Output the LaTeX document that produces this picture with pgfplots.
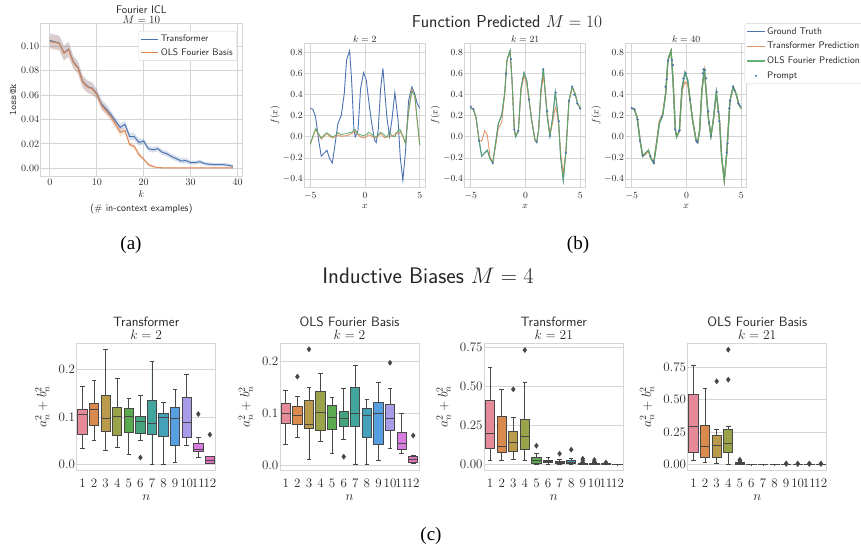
\RequirePackage{fix-cm}
\documentclass[border=0pt]{standalone}
\usepackage{fontspec}
\newfontfamily\timesfont{Liberation Serif}
\usepackage{pgfplots}
\usepackage{pgfplotstable}
\pgfplotsset{compat=1.18}
\usepgfplotslibrary{statistics}

\definecolor{sbblue}{HTML}{4C72B0}
\definecolor{sborange}{HTML}{DD8452}
\definecolor{sbgreen}{HTML}{55A868}
\definecolor{gridc}{HTML}{D5D5D5}
\definecolor{txt}{HTML}{262626}
\definecolor{boxedge}{HTML}{474747}
\definecolor{bx1}{HTML}{E68A9A}
\definecolor{bx2}{HTML}{DB8A4E}
\definecolor{bx3}{HTML}{BA9A4B}
\definecolor{bx4}{HTML}{9AA34A}
\definecolor{bx5}{HTML}{5CAA50}
\definecolor{bx6}{HTML}{45A47E}
\definecolor{bx7}{HTML}{43A69E}
\definecolor{bx8}{HTML}{45A0BA}
\definecolor{bx9}{HTML}{56A0E2}
\definecolor{bx10}{HTML}{A99BE8}
\definecolor{bx11}{HTML}{D87BDF}
\definecolor{bx12}{HTML}{E172BD}

\pgfplotsset{
  sbstyle/.style={
    scale only axis,
    axis line style={gridc, line width=1pt},
    grid=major,
    major grid style={gridc, line width=0.8pt},
    major tick length=0pt,
    tick style={draw=none},
    every tick label/.append style={text=txt},
    label style={text=txt},
    title style={text=txt},
  },
  fnstyle/.style={
    sbstyle,
    width=121pt, height=144pt,
    xmin=-5.55, xmax=5.5, ymin=-0.479, ymax=0.889,
    xtick={-5,0,5}, ytick={-0.4,-0.2,0,0.2,0.4,0.6,0.8},
    yticklabel style={/pgf/number format/.cd, fixed, fixed zerofill, precision=1},
    tick label style={font=\fontsize{9.4}{10}\selectfont, inner sep=1.5pt},
    xticklabel style={yshift=-3pt},
    xlabel={$x$}, ylabel={$f(x)$},
    label style={font=\fontsize{9.5}{10}\selectfont},
    xlabel style={yshift=0pt},
    ylabel style={yshift=-2pt},
    title style={font=\fontsize{9.5}{10}\selectfont, at={(0.5,1)}, anchor=south, yshift=-7pt, inner sep=1.5pt},
  },
  bxstyle/.style={
    sbstyle,
    xmajorgrids=false, ymajorgrids=true,
    width=139pt, height=126.7pt,
    xmin=0.5, xmax=12.5, xtick={1,2,3,4,5,6,7,8,9,10,11,12},
    tick label style={font=\fontsize{13}{13}\selectfont, inner sep=1.5pt},
    xticklabel style={yshift=-7pt},
    xlabel={$n$}, ylabel={$a_n^2+b_n^2$},
    label style={font=\fontsize{13.5}{14}\selectfont},
    xlabel style={yshift=-3pt},
    ylabel style={yshift=4pt},
    title style={font=\sffamily\fontsize{13.5}{15}\selectfont, align=center, at={(0.5,1)}, anchor=south, yshift=-4pt, inner sep=1.5pt},
    boxplot/draw direction=y,
    boxplot/box extend=0.8,
    boxplot/whisker extend=0.4,
  },
}

\newcommand{\bx}[8]{\addplot[boxplot prepared={draw position=#1, lower whisker=#2, lower quartile=#3, median=#4, upper quartile=#5, upper whisker=#6}, draw=boxedge, fill=#7, line width=0.9pt, mark=diamond*, mark size=2.2pt, mark options={fill=boxedge, draw=boxedge, solid}] coordinates {#8};}

\pgfplotstableread{
k t o
0 0.1045 0.1035
1 0.1035 0.1030
2 0.1025 0.1022
3 0.0945 0.0940
4 0.0975 0.0970
5 0.0870 0.0865
6 0.0825 0.0820
7 0.0710 0.0705
8 0.0670 0.0665
9 0.0655 0.0650
10 0.0610 0.0605
11 0.0525 0.0515
12 0.0485 0.0470
13 0.0440 0.0420
14 0.0385 0.0360
15 0.0335 0.0295
16 0.0360 0.0310
17 0.0260 0.0195
18 0.0258 0.0178
19 0.0212 0.0112
20 0.0222 0.0075
21 0.0160 0.0030
22 0.0152 0.0015
23 0.0160 0.0006
24 0.0130 0.0004
25 0.0118 0.0003
26 0.0095 0.0003
27 0.0078 0.0003
28 0.0060 0.0003
29 0.0063 0.0003
30 0.0047 0.0003
31 0.0047 0.0003
32 0.0054 0.0003
33 0.0038 0.0003
34 0.0033 0.0003
35 0.0030 0.0003
36 0.0030 0.0003
37 0.0030 0.0003
38 0.0025 0.0003
39 0.0016 0.0003
}\lossdata

\pgfplotstableread{
x truth tr2 ols2 tr21 tr40
-5.00 0.270 -0.070 -0.070 0.280 0.270
-4.76 0.263 0.000 0.010 0.265 0.263
-4.51 0.184 0.070 0.080 0.170 0.184
-4.24 -0.032 0.020 0.030 -0.035 -0.032
-4.00 -0.184 -0.020 -0.010 -0.040 -0.184
-3.72 -0.152 0.010 0.020 0.060 -0.165
-3.48 -0.127 0.030 0.040 0.015 -0.130
-3.24 -0.206 0.005 0.020 -0.190 -0.206
-2.99 -0.248 -0.010 0.000 -0.245 -0.248
-2.69 -0.032 0.000 0.015 -0.060 -0.020
-2.48 0.127 0.020 0.040 0.080 0.150
-2.17 0.206 0.005 0.020 0.140 0.220
-1.90 0.413 0.010 0.030 0.400 0.413
-1.69 0.730 0.010 0.030 0.730 0.730
-1.41 0.819 0.020 0.040 0.810 0.819
-1.23 0.540 0.030 0.040 0.540 0.540
-1.02 0.070 0.050 0.070 0.080 0.070
-0.90 0.000 0.050 0.070 0.010 0.000
-0.65 0.057 0.020 0.030 0.060 0.057
-0.41 0.460 0.000 0.020 0.440 0.440
-0.14 0.610 -0.010 0.010 0.580 0.520
0.11 0.540 0.000 0.020 0.500 0.500
0.32 0.356 0.020 0.045 0.360 0.356
0.56 0.159 0.010 0.030 0.170 0.159
0.87 -0.032 -0.010 0.000 -0.030 -0.032
1.02 -0.054 -0.010 0.000 -0.050 -0.054
1.20 0.063 0.010 0.020 0.070 0.063
1.41 0.444 0.030 0.045 0.400 0.444
1.63 0.651 0.010 0.030 0.590 0.630
1.81 0.413 -0.010 0.010 0.430 0.413
1.99 0.190 0.000 0.000 0.220 0.190
2.23 0.006 0.010 0.050 0.030 0.006
2.45 0.159 0.005 0.010 0.120 0.159
2.72 0.422 0.020 0.000 0.280 0.410
2.84 0.317 0.040 0.030 0.250 0.317
3.02 0.149 0.030 0.060 0.120 0.149
3.21 -0.190 0.050 0.070 -0.150 -0.190
3.45 -0.413 0.000 0.010 -0.350 -0.413
3.69 -0.143 -0.060 -0.060 -0.140 -0.143
3.97 0.343 0.250 0.230 0.330 0.343
4.27 0.476 0.450 0.430 0.470 0.476
4.54 0.406 0.380 0.400 0.410 0.406
4.76 0.317 0.150 0.160 0.310 0.317
5.00 0.270 -0.080 -0.080 0.270 0.270
}\fundata

\pgfplotstableread{
x y
-5.00 0.286
-4.76 0.263
-4.24 -0.038
-2.99 -0.248
-1.78 0.600
-1.32 0.740
-1.02 0.070
-0.65 0.057
0.32 0.356
1.02 -0.048
1.63 0.641
1.99 0.244
2.23 0.010
2.78 0.420
3.05 0.149
3.69 -0.152
3.97 0.343
4.27 0.476
4.45 0.400
4.73 0.317
5.00 0.270
}\promptA

\pgfplotstableread{
x y
-5.00 0.276
-4.76 0.263
-4.45 0.165
-4.24 -0.041
-4.00 -0.175
-3.30 -0.184
-3.05 -0.229
-2.96 -0.248
-2.26 0.190
-1.93 0.476
-1.81 0.546
-1.66 0.724
-1.32 0.730
-1.23 0.683
-1.02 0.070
-0.68 0.057
-0.62 0.063
-0.29 0.556
-0.05 0.603
0.32 0.356
0.90 -0.038
0.99 -0.051
1.47 0.603
1.53 0.641
1.69 0.635
1.81 0.556
1.99 0.244
2.05 0.137
2.23 0.010
2.78 0.425
2.90 0.238
2.99 0.149
3.66 -0.149
3.75 -0.063
3.91 0.270
4.00 0.343
4.24 0.476
4.39 0.444
4.73 0.317
4.85 0.298
}\promptB

\begin{document}
\begin{tikzpicture}
\useasboundingbox (0pt,0pt) rectangle (861pt,550pt);

% ---------------- panel (a)
\begin{axis}[sbstyle, at={(40.7pt,374pt)}, anchor=south west,
  width=201.3pt, height=152pt,
  xmin=-1.95, xmax=40.95, ymin=-0.0063, ymax=0.118,
  xtick={0,10,20,30,40}, ytick={0,0.02,0.04,0.06,0.08,0.10},
  scaled y ticks=false,
  yticklabel style={/pgf/number format/.cd, fixed, fixed zerofill, precision=2},
  tick label style={font=\fontsize{10}{10}\selectfont, inner sep=1.5pt},
  xticklabel style={yshift=-1pt},
  xlabel={$k$\\[2pt]\sffamily (\# in-context examples)},
  xlabel style={align=center, font=\fontsize{10}{12}\selectfont, yshift=0pt},
  ylabel={\ttfamily loss@k},
  ylabel style={font=\fontsize{10}{10}\selectfont, yshift=0pt},
  title={Fourier ICL\\[-1pt]$M=10$},
  title style={font=\sffamily\fontsize{11}{11}\selectfont, align=center, at={(0.5,1)}, anchor=south, yshift=-7pt, inner sep=1pt},
  legend style={at={(0.975,0.954)}, anchor=north east, draw=gridc, rounded corners=2pt,
    font=\sffamily\fontsize{9.5}{10}\selectfont, text=txt, inner sep=2pt, row sep=1pt},
  legend cell align=left,
]
% confidence bands (upper edge left to right, lower edge right to left)
\addplot[fill=sbblue, fill opacity=0.22, draw=none, forget plot] coordinates {
(0,0.1105) (1,0.1095) (2,0.1085) (3,0.1005) (4,0.1035) (5,0.0920) (6,0.0875) (7,0.0760) (8,0.0720) (9,0.0705)
(10,0.0650) (11,0.0565) (12,0.0525) (13,0.0470) (14,0.0415) (15,0.0365) (16,0.0390) (17,0.0290) (18,0.0288) (19,0.0242)
(20,0.0244) (21,0.0182) (22,0.0174) (23,0.0182) (24,0.0152) (25,0.0140) (26,0.0117) (27,0.0100) (28,0.0082) (29,0.0085)
(30,0.0062) (31,0.0062) (32,0.0069) (33,0.0053) (34,0.0048) (35,0.0045) (36,0.0045) (37,0.0045) (38,0.0040) (39,0.0031)
(39,0.0001) (38,0.0010) (37,0.0015) (36,0.0015) (35,0.0015) (34,0.0018) (33,0.0023) (32,0.0039) (31,0.0032) (30,0.0032)
(29,0.0041) (28,0.0038) (27,0.0056) (26,0.0073) (25,0.0096) (24,0.0108) (23,0.0138) (22,0.0130) (21,0.0138) (20,0.0200)
(19,0.0182) (18,0.0228) (17,0.0230) (16,0.0330) (15,0.0305) (14,0.0355) (13,0.0410) (12,0.0445) (11,0.0485) (10,0.0570)
(9,0.0605) (8,0.0620) (7,0.0660) (6,0.0775) (5,0.0820) (4,0.0915) (3,0.0885) (2,0.0965) (1,0.0975) (0,0.0985)
} -- cycle;
\addplot[fill=sborange, fill opacity=0.22, draw=none, forget plot] coordinates {
(0,0.1095) (1,0.1090) (2,0.1082) (3,0.1000) (4,0.1030) (5,0.0915) (6,0.0870) (7,0.0755) (8,0.0715) (9,0.0700)
(10,0.0640) (11,0.0550) (12,0.0505) (13,0.0455) (14,0.0395) (15,0.0330) (16,0.0330) (17,0.0215) (18,0.0198) (19,0.0132)
(20,0.0085) (21,0.0040) (22,0.0025) (23,0.0008) (24,0.0006) (25,0.0005) (30,0.0005) (39,0.0005)
(39,0.0001) (30,0.0001) (25,0.0001) (24,0.0002) (23,0.0004) (22,0.0005) (21,0.0020) (20,0.0065)
(19,0.0092) (18,0.0158) (17,0.0175) (16,0.0290) (15,0.0260) (14,0.0325) (13,0.0385) (12,0.0435) (11,0.0480) (10,0.0570)
(9,0.0600) (8,0.0615) (7,0.0655) (6,0.0770) (5,0.0815) (4,0.0910) (3,0.0880) (2,0.0962) (1,0.0970) (0,0.0975)
} -- cycle;
\addplot[sbblue, line width=1pt] table[x=k,y=t]{\lossdata};
\addlegendentry{Transformer}
\addplot[sborange, line width=1pt] table[x=k,y=o]{\lossdata};
\addlegendentry{OLS Fourier Basis}
\end{axis}

% ---------------- panel (b)
\begin{axis}[fnstyle, at={(304.3pt,362.7pt)}, anchor=south west, title={$k=2$}]
\addplot[sbblue, line width=0.9pt] table[x=x,y=truth]{\fundata};
\addplot[sborange, line width=0.9pt, opacity=0.85] table[x=x,y=tr2]{\fundata};
\addplot[sbgreen, line width=0.9pt, opacity=0.85] table[x=x,y=ols2]{\fundata};
\end{axis}

\begin{axis}[fnstyle, at={(464.7pt,362.7pt)}, anchor=south west, title={$k=21$}]
\addplot[sbblue, line width=0.9pt] table[x=x,y=truth]{\fundata};
\addplot[sborange, line width=0.9pt, opacity=0.85] table[x=x,y=tr21]{\fundata};
\addplot[sbgreen, line width=0.9pt, opacity=0.9] table[x=x,y=truth]{\fundata};
\addplot[only marks, mark=*, mark size=0.8pt, sbblue] table[x=x,y=y]{\promptA};
\end{axis}

\begin{axis}[fnstyle, at={(625.7pt,362.7pt)}, anchor=south west, title={$k=40$},
  legend style={at={(0.983,1.14)}, anchor=north west, draw=gridc, rounded corners=2pt,
    font=\sffamily\fontsize{9.6}{10}\selectfont, text=txt, inner sep=2pt, row sep=2.5pt},
  legend cell align=left,
]
\addplot[sbblue, line width=1.2pt] table[x=x,y=truth]{\fundata};
\addlegendentry{Ground Truth}
\addplot[sborange, line width=1.2pt, opacity=0.85] table[x=x,y=tr40]{\fundata};
\addlegendentry{Transformer Prediction}
\addplot[sbgreen, line width=1.2pt, opacity=0.9] table[x=x,y=truth]{\fundata};
\addlegendentry{OLS Fourier Prediction}
\addplot[only marks, mark=*, mark size=0.8pt, sbblue] table[x=x,y=y]{\promptB};
\addlegendentry{Prompt}
\end{axis}

\node[font=\sffamily\fontsize{17.3}{18}\selectfont, text=txt] at (507pt,528.3pt) {Function Predicted $M=10$};

% ---------------- labels
\node[font=\timesfont\fontsize{19}{19}\selectfont] at (131pt,305.5pt) {(a)};
\node[font=\timesfont\fontsize{19}{19}\selectfont] at (578pt,305.5pt) {(b)};
\node[font=\timesfont\fontsize{19}{19}\selectfont] at (431pt,14pt) {(c)};
\node[font=\sffamily\fontsize{22.5}{23}\selectfont, text=txt] at (428pt,274.6pt) {Inductive Biases $M=4$};

% ---------------- panel (c)
\begin{axis}[bxstyle, at={(76.7pt,80pt)}, anchor=south west,
  ymin=-0.011, ymax=0.254, ytick={0,0.1,0.2},
  yticklabel style={/pgf/number format/.cd, fixed, fixed zerofill, precision=1},
  title={Transformer\\[-2pt]$k=2$}]
\bx{1}{0.035}{0.064}{0.106}{0.116}{0.164}{bx1}{}
\bx{2}{0.051}{0.083}{0.115}{0.128}{0.176}{bx2}{}
\bx{3}{0.029}{0.069}{0.097}{0.145}{0.242}{bx3}{}
\bx{4}{0.037}{0.062}{0.101}{0.120}{0.180}{bx4}{}
\bx{5}{0.022}{0.068}{0.102}{0.117}{0.138}{bx5}{}
\bx{6}{0.051}{0.066}{0.090}{0.100}{0.145}{bx6}{(0,0.015)}
\bx{7}{0.001}{0.064}{0.087}{0.135}{0.216}{bx7}{}
\bx{8}{0.001}{0.059}{0.098}{0.108}{0.130}{bx8}{}
\bx{9}{0.004}{0.040}{0.096}{0.120}{0.157}{bx9}{}
\bx{10}{0.041}{0.058}{0.088}{0.141}{0.189}{bx10}{}
\bx{11}{0.016}{0.027}{0.033}{0.045}{0.057}{bx11}{(0,0.106)}
\bx{12}{0.002}{0.003}{0.010}{0.017}{0.018}{bx12}{(0,0.063)}
\end{axis}

\begin{axis}[bxstyle, at={(280pt,80pt)}, anchor=south west,
  ymin=-0.0097, ymax=0.2356, ytick={0,0.1,0.2},
  yticklabel style={/pgf/number format/.cd, fixed, fixed zerofill, precision=1},
  title={OLS Fourier Basis\\[-2pt]$k=2$}]
\bx{1}{0.039}{0.080}{0.100}{0.119}{0.145}{bx1}{}
\bx{2}{0.054}{0.078}{0.096}{0.113}{0.132}{bx2}{(0,0.171)}
\bx{3}{0.010}{0.071}{0.079}{0.125}{0.150}{bx3}{(0,0.224)}
\bx{4}{0.045}{0.066}{0.102}{0.143}{0.177}{bx4}{}
\bx{5}{0.023}{0.068}{0.093}{0.115}{0.130}{bx5}{}
\bx{6}{0.049}{0.074}{0.090}{0.104}{0.148}{bx6}{(0,0.016)}
\bx{7}{0.002}{0.075}{0.100}{0.150}{0.192}{bx7}{}
\bx{8}{0.002}{0.054}{0.095}{0.110}{0.127}{bx8}{}
\bx{9}{0.008}{0.039}{0.099}{0.121}{0.160}{bx9}{}
\bx{10}{0.032}{0.066}{0.090}{0.118}{0.148}{bx10}{(0,0.198)}
\bx{11}{0.023}{0.030}{0.041}{0.063}{0.100}{bx11}{}
\bx{12}{0.003}{0.005}{0.010}{0.016}{0.018}{bx12}{(0,0.057)}
\end{axis}

\begin{axis}[bxstyle, at={(484.3pt,80pt)}, anchor=south west,
  ymin=-0.034, ymax=0.776, ytick={0,0.25,0.5,0.75},
  yticklabel style={/pgf/number format/.cd, fixed, fixed zerofill, precision=2},
  title={Transformer\\[-2pt]$k=21$}]
\bx{1}{0.026}{0.104}{0.200}{0.413}{0.622}{bx1}{}
\bx{2}{0.026}{0.077}{0.119}{0.307}{0.482}{bx2}{}
\bx{3}{0.032}{0.083}{0.145}{0.211}{0.303}{bx3}{(0,0.482)}
\bx{4}{0.028}{0.100}{0.183}{0.292}{0.526}{bx4}{(0,0.733)}
\bx{5}{0.002}{0.009}{0.026}{0.045}{0.070}{bx5}{(0,0.121)}
\bx{6}{0.004}{0.013}{0.021}{0.030}{0.047}{bx6}{}
\bx{7}{0.002}{0.006}{0.015}{0.021}{0.032}{bx7}{(0,0.070)}
\bx{8}{0.002}{0.009}{0.015}{0.030}{0.040}{bx8}{(0,0.096)}
\bx{9}{0.001}{0.004}{0.007}{0.011}{0.017}{bx9}{(0,0.026) (0,0.038)}
\bx{10}{0.001}{0.003}{0.005}{0.008}{0.012}{bx10}{(0,0.020) (0,0.030)}
\bx{11}{0.0005}{0.002}{0.003}{0.005}{0.008}{bx11}{(0,0.014)}
\bx{12}{0.0002}{0.0008}{0.0012}{0.002}{0.003}{bx12}{}
\end{axis}

\begin{axis}[bxstyle, at={(687.7pt,80pt)}, anchor=south west,
  ymin=-0.041, ymax=0.935, ytick={0,0.25,0.5,0.75},
  yticklabel style={/pgf/number format/.cd, fixed, fixed zerofill, precision=2},
  title={OLS Fourier Basis\\[-2pt]$k=21$}]
\bx{1}{0.033}{0.095}{0.293}{0.539}{0.768}{bx1}{}
\bx{2}{0.015}{0.057}{0.144}{0.306}{0.586}{bx2}{}
\bx{3}{0.013}{0.054}{0.146}{0.226}{0.270}{bx3}{(0,0.642)}
\bx{4}{0.003}{0.098}{0.164}{0.270}{0.298}{bx4}{(0,0.655) (0,0.886)}
\bx{5}{0.001}{0.004}{0.008}{0.015}{0.025}{bx5}{(0,0.032) (0,0.038)}
\bx{6}{0.0005}{0.001}{0.002}{0.003}{0.005}{bx6}{}
\bx{7}{0.0005}{0.001}{0.002}{0.003}{0.004}{bx7}{}
\bx{8}{0.0003}{0.0008}{0.0012}{0.002}{0.003}{bx8}{}
\bx{9}{0.0002}{0.0005}{0.001}{0.0015}{0.002}{bx9}{(0,0.006) (0,0.009)}
\bx{10}{0.0002}{0.0005}{0.001}{0.0015}{0.002}{bx10}{(0,0.006) (0,0.008)}
\bx{11}{0.0002}{0.0005}{0.001}{0.0015}{0.002}{bx11}{(0,0.006) (0,0.009)}
\bx{12}{0.0002}{0.0005}{0.001}{0.0015}{0.002}{bx12}{(0,0.006) (0,0.008)}
\end{axis}
\end{tikzpicture}
\end{document}
